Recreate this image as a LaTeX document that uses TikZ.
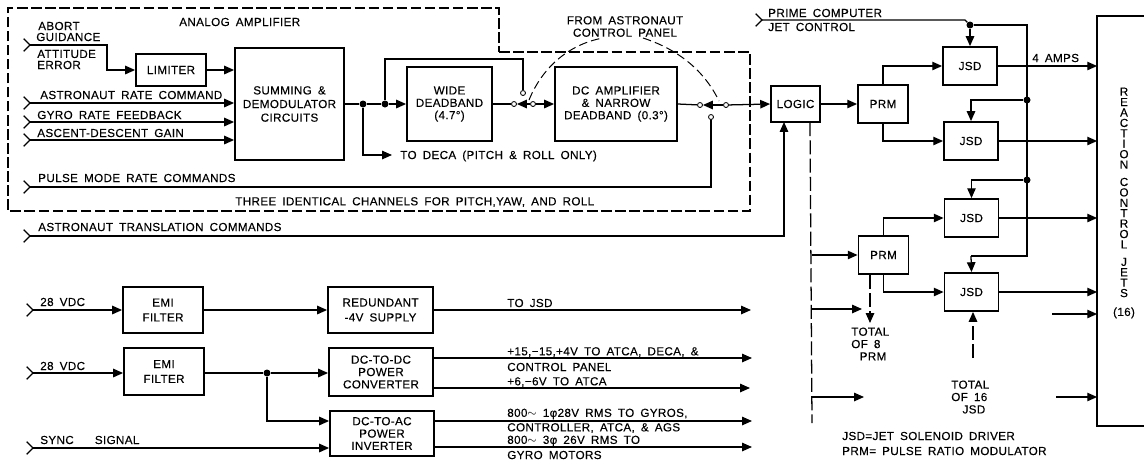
\documentclass[tikz,border=0pt]{standalone}
\usepackage{fontspec}
\setmainfont{Liberation Sans}[WordSpace=1.7,LetterSpace=3,FakeBold=0.25]
\usetikzlibrary{arrows.meta,positioning}
\def\pxu{0.025cm}

\begin{document}
\begin{tikzpicture}[x=0.025cm,y=-0.025cm,font=\fontsize{8.3}{8.8}\selectfont,
  wire/.style={line width=0.9pt},
  sig/.style={wire,-{Triangle[length=7pt,width=6pt]}},
  insig/.style={wire,{Straight Barb[reversed,length=4.5pt,width=9pt]}-{Triangle[length=7pt,width=6pt]}},
  inwire/.style={wire,{Straight Barb[reversed,length=4.5pt,width=9pt]}-},
  blockbox/.style 2 args={draw,line width=1.3pt,align=center,inner sep=0pt,minimum width=#1*\pxu,minimum height=#2*\pxu},
  jsdbox/.style={blockbox={54}{38}},
  prmbox/.style={blockbox={50}{38}},
  lbl/.style={anchor=west,inner sep=0pt},
  jdot/.style={circle,fill=black,inner sep=0pt,minimum size=7*\pxu},
  contact/.style={circle,draw,fill=white,line width=0.6pt,inner sep=0pt,minimum size=5*\pxu},
  bigdash/.style={line width=1.4pt,dash pattern=on 7.5pt off 2.5pt},
  smalldash/.style={line width=0.7pt,dash pattern=on 6pt off 3pt},
  longdash/.style={line width=0.9pt,dash pattern=on 10pt off 3pt}]
  \useasboundingbox (0,0) rectangle (1144,463);

  % analog amplifier channel
  \draw[bigdash] (499,52) -- (750,52) -- (750,211) -- (8,211) -- (8,8) -- (499,8) -- cycle;
  \node[blockbox={70}{32}] (limiter) at (171,70) {LIMITER};
  \node[blockbox={109}{112}] (summing) at (289.5,104) {SUMMING \&\\[0.9pt]DEMODULATOR\\[0.9pt]CIRCUITS};
  \node[blockbox={85}{74}] (wide) at (449.5,104) {WIDE\\DEADBAND\\(4.7°)};
  \node[blockbox={122}{74}] (dcamp) at (616,104) {DC AMPLIFIER\\\&  NARROW\\DEADBAND (0.3°)};
  \node[blockbox={49}{36}] (logic) at (795.5,104) {LOGIC};
  \node[prmbox] (prma) at (883,104) {PRM};
  \node[jsdbox] (jsda) at (970,66) {JSD};
  \node[jsdbox] (jsdb) at (971,141) {JSD};
  \node[jsdbox] (jsdc) at (971.5,218) {JSD};
  \node[prmbox] (prmb) at (883.5,255) {PRM};
  \node[jsdbox] (jsdd) at (971.5,292) {JSD};
  \node[blockbox={46}{408},draw=none] (jets) at (1121,221) {};
  \draw[line width=1.3pt] (jets.north east) -- (jets.north west) -- (jets.south west) -- (jets.south east);
  \node[inner sep=0pt,align=center,font=\fontsize{8.3}{7.4}\selectfont] (jetname) at (1124,203)
    {R\\E\\A\\C\\T\\I\\O\\N\\[5pt]C\\O\\N\\T\\R\\O\\L\\[5pt]J\\E\\T\\S\\[6pt](16)};

  \coordinate (abortin) at (23,45);
  \coordinate (rate) at (23,103);
  \coordinate (gyro) at (23,122);
  \coordinate (gain) at (23,140);
  \coordinate (pulse) at (23,187);
  \coordinate (trans) at (23,236);
  \coordinate (prime) at (755,20);
  \coordinate (logicin) at (784,122);
  \coordinate (deca) at (392,155);

  \node[contact] (ca) at (514,104) {};
  \node[contact] (cb) at (533,104) {};
  \node[contact] (cc) at (523,93) {};
  \node[contact] (cd) at (700,105) {};
  \node[contact] (ce) at (726,105) {};
  \node[contact] (cf) at (711,117) {};
  \node[jdot] (dota) at (363,104) {};
  \node[jdot] (dotb) at (385,104) {};
  \node[jdot] (dotc) at (970,25) {};
  \node[jdot] (dotd) at (1027,100) {};
  \node[jdot] (dote) at (1027,180) {};

  \draw[insig] (abortin) -- (107,45) |- (limiter.west);
  \draw[sig] (limiter.east) -- (limiter.east -| summing.west);
  \draw[insig] (rate) -- (rate -| summing.west);
  \draw[insig] (gyro) -- (gyro -| summing.west);
  \draw[insig] (gain) -- (gain -| summing.west);
  \draw[wire] (summing.east) -- (dota);
  \draw[wire] (dota) -- (dotb);
  \draw[sig] (dotb) -- (wide.west);
  \draw[sig] (dota) |- (deca);
  \draw[wire] (dotb) |- (523,59) -- (cc);
  \draw[wire] (wide.east) -- (ca);
  \draw[sig] (cb) -- (ca);
  \draw[sig] (cb) -- (dcamp.west);
  \draw[wire] (dcamp.east) -- (cd);
  \draw[sig] (ce) -- (cd);
  \draw[sig] (ce) -- (logic.west);
  \draw[inwire] (pulse) -| (cf);
  \draw[insig] (trans) -| (logicin);
  \draw[sig] (logic.east) -- (prma.west);
  \draw[sig] (prma.north) |- (jsda.west);
  \draw[sig] (prma.south) |- (jsdb.west);
  \draw[sig] (prmb.north) |- (jsdc.west);
  \draw[sig] (prmb.south) |- (jsdd.west);
  \draw[inwire] (prime) -- (965,20) -- (dotc);
  \draw[sig] (dotc) -- (jsda.north);
  \draw[wire] (dotc) -| (1027,256) -- (971,256) coordinate (jsddin);
  \draw[sig] (jsddin) -- (jsdd.north);
  \draw[sig] (dotd) -| (jsdb.north);
  \draw[sig] (dote) -| (jsdc.north);
  \draw[sig] (jsda.east) -- (jsda.east -| jets.west);
  \draw[sig] (jsdb.east) -- (jsdb.east -| jets.west);
  \draw[sig] (jsdc.east) -- (jsdc.east -| jets.west);
  \draw[sig] (jsdd.east) -- (jsdd.east -| jets.west);
  \coordinate (jetsa) at (1052,314);
  \coordinate (jetsb) at (1056,397);
  \draw[sig] (jetsa) -- (jetsa -| jets.west);
  \draw[sig] (jetsb) -- (jetsb -| jets.west);

  % dashed links
  \coordinate (arma) at (529,100);
  \coordinate (armb) at (603,38);
  \coordinate (armc) at (643,38);
  \coordinate (armd) at (719,101);
  \draw[smalldash] (arma) .. controls (543,66) and (570,44) .. (armb);
  \draw[smalldash] (armc) .. controls (680,50) and (705,72) .. (armd);
  \coordinate (dashtop) at (810,122);
  \coordinate (dashbot) at (812,423);
  \draw[longdash] (dashtop) -- (dashbot);
  \coordinate (prmcount) at (870,323);
  \coordinate (jsdcount) at (973,358);
  \draw[longdash,-{Triangle[length=7pt,width=6pt]}] (prmb.south -| prmcount) -- (prmcount);
  \draw[longdash,-{Triangle[length=7pt,width=6pt]}] (jsdcount) -- (jsdcount |- jsdd.south);
  \coordinate (bra) at (812,309);
  \coordinate (brb) at (812,397);
  \coordinate (brc) at (862,309);
  \coordinate (brd) at (864,397);
  \draw[sig] (812,255) -- (prmb.west);
  \draw[sig] (bra) -- (brc);
  \draw[sig] (brb) -- (brd);

  % power section
  \node[blockbox={80}{46}] (emia) at (163,310) {EMI\\[1.8pt]FILTER};
  \node[blockbox={80}{47}] (emib) at (164,371.5) {EMI\\[1.8pt]FILTER};
  \node[blockbox={105}{46}] (redund) at (380.5,310) {REDUNDANT\\[1.8pt]-4V  SUPPLY};
  \node[blockbox={104}{48}] (conv) at (381,372) {DC-TO-DC\\POWER\\CONVERTER};
  \node[blockbox={104}{45}] (inv) at (382,433.5) {DC-TO-AC\\POWER\\INVERTER};
  \node[jdot] (dotf) at (267,373) {};
  \coordinate (vdca) at (26,310);
  \coordinate (vdcb) at (26,373);
  \coordinate (syncin) at (26,448);
  \coordinate (tojsd) at (751,310);
  \coordinate (convup) at (433,358);
  \coordinate (convdn) at (433,388);
  \coordinate (invup) at (434,421);
  \coordinate (invdn) at (434,447);
  \draw[insig] (vdca) -- (emia.west);
  \draw[insig] (vdcb) -- (vdcb -| emib.west);
  \draw[insig] (syncin) -- (syncin -| inv.west);
  \draw[sig] (emia.east) -- (redund.west);
  \draw[wire] (emib.east |- dotf) -- (dotf);
  \draw[sig] (dotf) -- (dotf -| conv.west);
  \draw[sig] (dotf) |- (invup -| inv.west);
  \draw[sig] (redund.east) -- (tojsd);
  \draw[sig] (convup) -- (752,358);
  \draw[sig] (convdn) -- (750,388);
  \draw[sig] (invup) -- (752,421);
  \draw[sig] (invdn) -- (752,447);

  % labels
  \node[lbl] (tanalog) at (179,22) {ANALOG  AMPLIFIER};
  \node[lbl] (tabort) at (38,26) {ABORT};
  \node[lbl] (tguid) at (36,37) {GUIDANCE};
  \node[lbl] (tatt) at (37,54) {ATTITUDE};
  \node[lbl] (terr) at (37,65) {ERROR};
  \node[lbl] (trate) at (40,95) {ASTRONAUT RATE COMMAND};
  \node[lbl] (tgyro) at (37,115) {GYRO RATE FEEDBACK};
  \node[lbl] (tgain) at (37,133) {ASCENT-DESCENT GAIN};
  \node[lbl] (tpulse) at (38,178) {PULSE MODE RATE COMMANDS};
  \node[lbl] (tthree) at (235,202) {THREE IDENTICAL CHANNELS FOR PITCH,YAW, AND ROLL};
  \node[lbl] (ttrans) at (38,227) {ASTRONAUT TRANSLATION COMMANDS};
  \node[lbl] (tdeca) at (400,156) {TO DECA (PITCH \& ROLL ONLY)};
  \node[inner sep=0pt,align=center] (tpanel) at (625,26.5) {FROM ASTRONAUT\\CONTROL PANEL};
  \node[lbl] (tprime) at (768,13) {PRIME COMPUTER};
  \node[lbl] (tjet) at (768,27) {JET CONTROL};
  \node[lbl] (tamps) at (1032,58) {4 AMPS};
  \node[lbl,align=left] (tprm) at (851,344) {TOTAL\\OF  8\\\hspace{6pt}PRM};
  \node[lbl,align=left] (tjsd) at (951,397) {TOTAL\\OF 16\\\hspace{8pt}JSD};
  \node[lbl] (tnotea) at (842,436) {JSD=JET SOLENOID DRIVER};
  \node[lbl] (tnoteb) at (842,451) {PRM= PULSE RATIO MODULATOR};
  \node[lbl] (tvdca) at (40,302) {28 VDC};
  \node[lbl] (tvdcb) at (40,366) {28 VDC};
  \node[lbl] (tsync) at (40,440) {SYNC\hspace{15pt}SIGNAL};
  \node[lbl] (ttojsd) at (507,303) {TO JSD};
  \node[lbl] (tplus) at (507,352) {+15,−15,+4V TO ATCA, DECA, \&};
  \node[lbl] (tpanelb) at (507,367) {CONTROL PANEL};
  \node[lbl] (tsix) at (507,382) {+6,−6V TO ATCA};
  \node[lbl] (tgyros) at (507,414) {800$\sim$ 1φ28V RMS TO GYROS,};
  \node[lbl] (tctrl) at (507,428) {CONTROLLER, ATCA, \& AGS};
  \node[lbl] (tthreeph) at (507,441) {800$\sim$ 3φ 26V RMS TO};
  \node[lbl] (tmotors) at (507,455) {GYRO MOTORS};
\end{tikzpicture}
\end{document}
